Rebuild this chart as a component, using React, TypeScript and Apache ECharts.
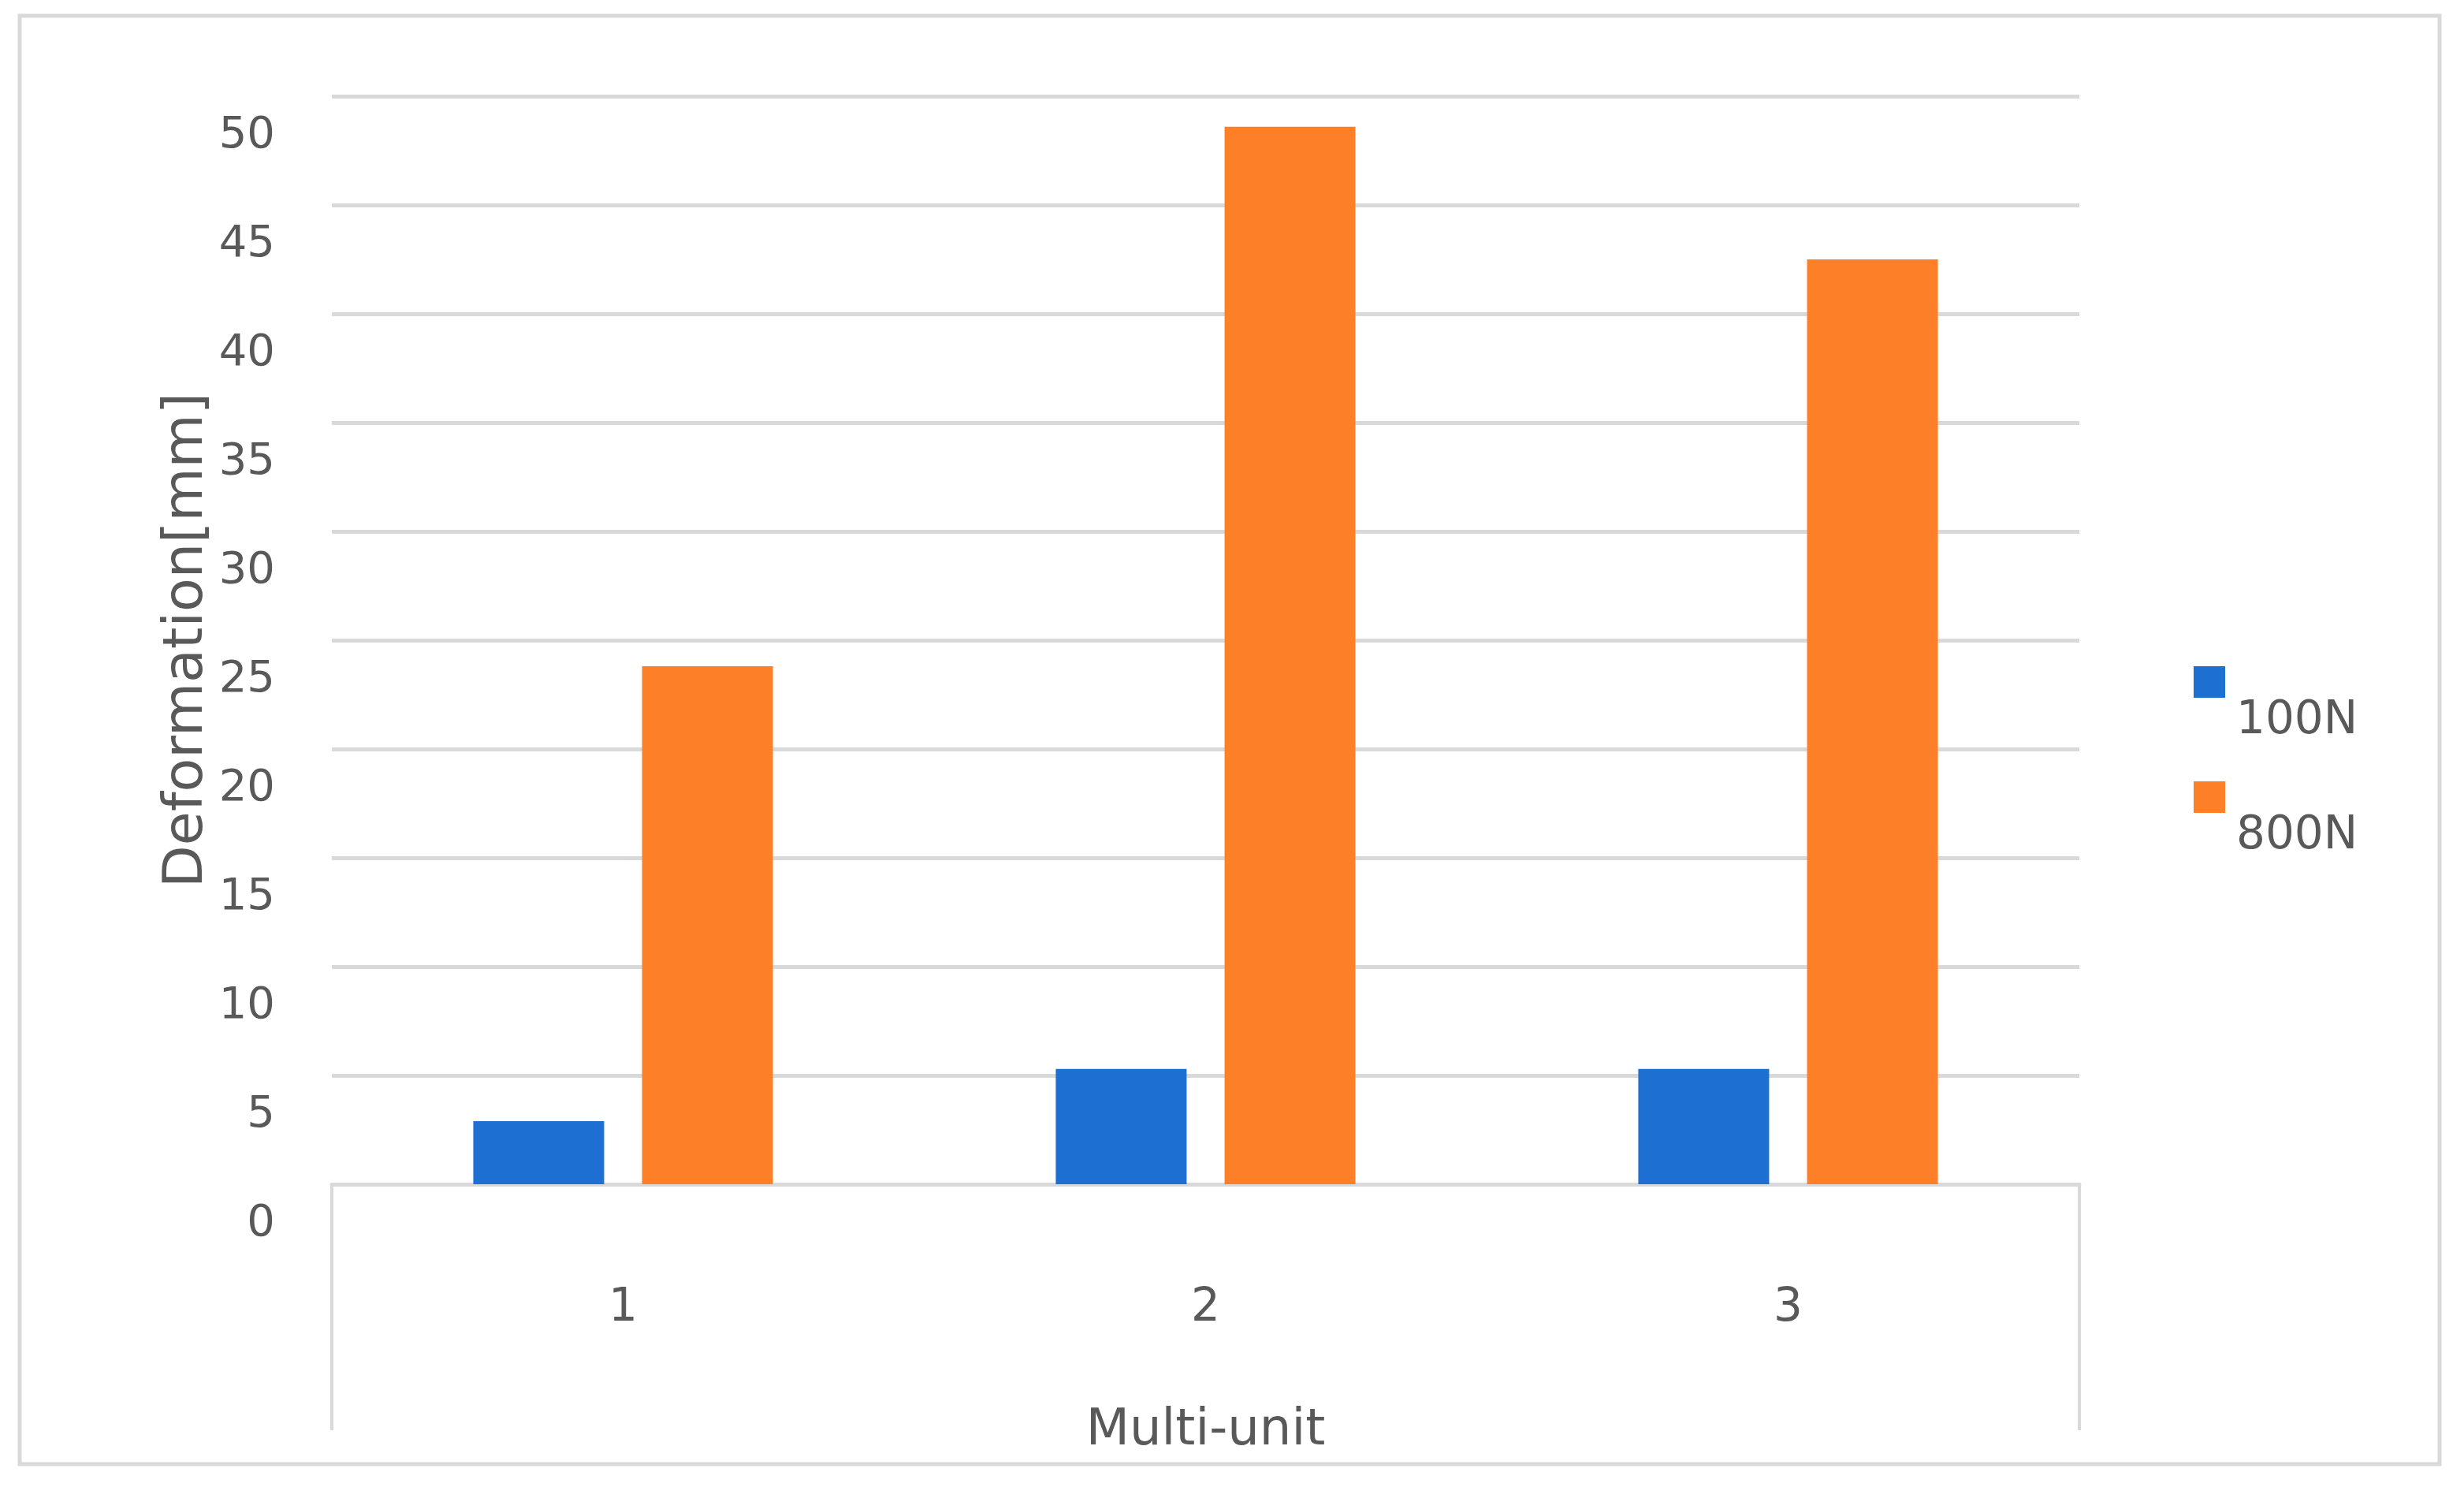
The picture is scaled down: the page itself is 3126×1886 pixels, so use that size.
import React, { useEffect, useRef } from "react";
import * as echarts from "echarts";

const categories = ["1", "2", "3"];
const series100N = [2.9, 5.3, 5.3];
const series800N = [23.8, 48.6, 42.5];
const seriesNames = ["100N", "800N"];
const yTicks = { min: 0, max: 50, interval: 5 };
const xTitle = "Multi-unit";
const yTitle = "Deformation[mm]";

const TEXT = "#595959";
const GRID = "#d9d9d9";
const FONT = "DejaVu Sans";

export default function App() {
  const ref = useRef<HTMLDivElement>(null);
  useEffect(() => {
    if (!ref.current) return;
    const chart = echarts.init(ref.current, undefined, { renderer: "svg" });
    chart.setOption({
      animation: false,
      backgroundColor: "#ffffff",
      textStyle: { fontFamily: FONT },
      graphic: [
        {
          type: "rect",
          shape: { x: 25, y: 20, width: 3070, height: 1837 },
          style: { fill: "none", stroke: GRID, lineWidth: 5 },
          silent: true,
        },
      ],
      grid: { left: 421, right: 488, top: 122, bottom: 384 },
      legend: {
        orient: "vertical",
        left: 2778,
        top: 840,
        itemWidth: 40,
        itemHeight: 40,
        itemGap: 52,
        icon: "rect",
        data: seriesNames,
        formatter: "{a|{name}}",
        textStyle: {
          color: TEXT,
          fontSize: 58,
          fontFamily: FONT,
          rich: {
            a: {
              color: TEXT,
              fontSize: 58,
              fontFamily: FONT,
              padding: [90, 0, 0, 9],
            },
          },
        },
      },
      xAxis: {
        type: "category",
        data: categories,
        name: xTitle,
        nameLocation: "middle",
        nameGap: 276,
        nameTextStyle: { color: TEXT, fontSize: 64, fontFamily: FONT },
        axisLine: { show: true, lineStyle: { color: GRID, width: 5 } },
        axisTick: {
          show: true,
          interval: (i: number) => i === 0,
          length: 312,
          lineStyle: { color: GRID, width: 4 },
        },
        axisLabel: { color: TEXT, fontSize: 58, margin: 124, fontFamily: FONT },
      },
      yAxis: {
        type: "value",
        min: yTicks.min,
        max: yTicks.max,
        interval: yTicks.interval,
        name: yTitle,
        nameLocation: "middle",
        nameRotate: 90,
        nameGap: 140,
        nameTextStyle: { color: TEXT, fontSize: 70, fontFamily: FONT },
        axisLine: { show: false },
        axisTick: { show: false },
        splitLine: { lineStyle: { color: GRID, width: 5 } },
        axisLabel: {
          color: TEXT,
          fontSize: 56,
          margin: 72,
          fontFamily: FONT,
          formatter: "{a|{value}}",
          rich: {
            a: {
              color: TEXT,
              fontSize: 56,
              fontFamily: FONT,
              padding: [90, 0, 0, 0],
            },
          },
        },
      },
      series: [
        {
          name: seriesNames[0],
          type: "bar",
          data: series100N,
          barWidth: 166,
          barGap: "29%",
          itemStyle: { color: "#1E6FD2" },
        },
        {
          name: seriesNames[1],
          type: "bar",
          data: series800N,
          barWidth: 166,
          barGap: "29%",
          itemStyle: { color: "#FD7F28" },
        },
      ],
    });
    return () => chart.dispose();
  }, []);
  return (
    <div
      ref={ref}
      style={{ position: "fixed", left: 0, top: 0, width: 3126, height: 1886 }}
    />
  );
}
